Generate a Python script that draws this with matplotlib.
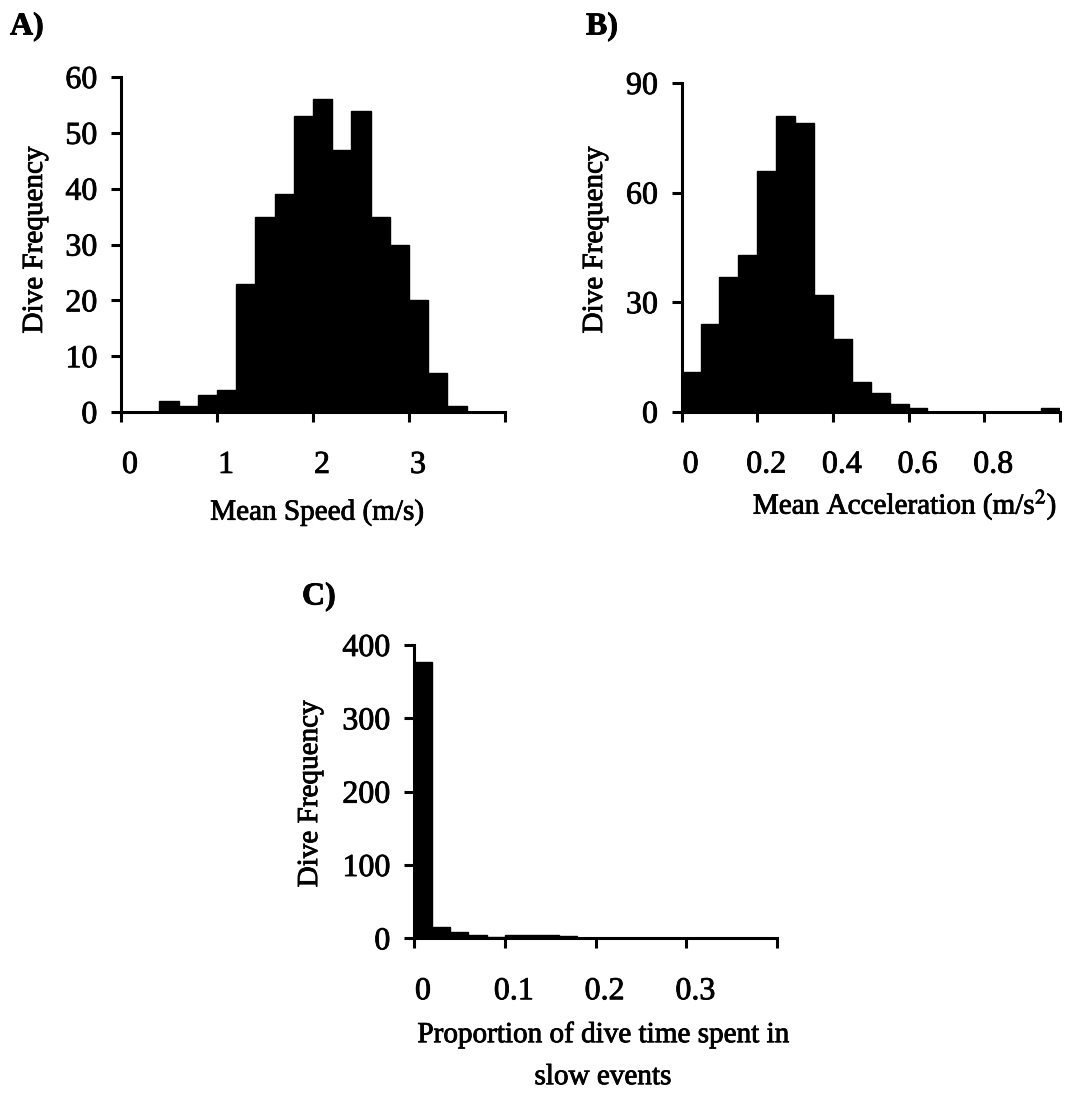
"""Dive histograms: mean speed, mean acceleration, slow-event proportion."""

import matplotlib
matplotlib.use("Agg")
import matplotlib.pyplot as plt
import matplotlib.patheffects as pe
import matplotlib.transforms as mtransforms
import numpy as np

plt.rcParams["font.family"] = ["Liberation Serif", "DejaVu Serif"]
plt.rcParams["mathtext.fontset"] = "stix"

# A) mean speed, 0.2 m/s bins
SPEED_EDGES = np.round(np.arange(0, 4.01, 0.2), 2)
SPEED_COUNTS = [0, 0, 2, 1, 3, 4, 23, 35, 39, 53, 56, 47, 54, 35, 30, 20, 7, 1, 0, 0]

# B) mean acceleration, 0.05 m/s^2 bins
ACCEL_EDGES = np.round(np.arange(0, 1.001, 0.05), 3)
ACCEL_COUNTS = [11, 24, 37, 43, 66, 81, 79, 32, 20, 8, 5, 2, 1, 0, 0, 0, 0, 0, 0, 1]

# C) proportion of dive time in slow events, 0.02 bins
SLOW_EDGES = np.round(np.arange(0, 0.401, 0.02), 3)
SLOW_COUNTS = [377, 16, 9, 5, 2, 4, 4, 4, 3, 1, 1, 1, 1, 0, 1, 1, 0, 1, 1, 1]

YLABEL = "Dive Frequency"
INK = "black"
TICK_FS = 23
LABEL_FS = 21
# scanned print looks heavy: thicken glyphs a touch
HEAVY = [pe.withStroke(linewidth=0.6, foreground=INK)]


def style_axis(ax, xticks, xticklabels, yticks):
    for side in ("top", "right"):
        ax.spines[side].set_visible(False)
    for side in ("left", "bottom"):
        ax.spines[side].set_linewidth(2.2)
    ax.set_xticks(xticks, labels=xticklabels)
    ax.set_yticks(yticks)
    ax.set_xlim(xticks[0], xticks[-1])
    ax.set_ylim(yticks[0], yticks[-1])
    ax.tick_params(axis="both", direction="out", length=7, width=2.2,
                   labelsize=TICK_FS, colors=INK)
    ax.tick_params(axis="x", pad=21)
    ax.tick_params(axis="y", pad=10)
    # labels sit a little right of their ticks in the original
    shift = mtransforms.ScaledTranslation(0.09, 0, ax.figure.dpi_scale_trans)
    for lab in ax.get_xticklabels():
        lab.set_transform(lab.get_transform() + shift)
    for lab in ax.get_xticklabels() + ax.get_yticklabels():
        lab.set_path_effects(HEAVY)


def hist(ax, edges, counts):
    ax.bar(edges[:-1], counts, width=np.diff(edges), align="edge",
           color=INK, edgecolor=INK, linewidth=1)


def labels(ax, xlabel, xpos, ypos):
    ax.set_xlabel(xlabel, fontsize=LABEL_FS, linespacing=1.8)
    ax.xaxis.set_label_coords(*xpos)
    ax.xaxis.label.set_va("center")
    ax.xaxis.label.set_path_effects(HEAVY)
    ax.set_ylabel(YLABEL, fontsize=LABEL_FS)
    ax.yaxis.set_label_coords(*ypos)
    ax.yaxis.label.set_va("center")
    ax.yaxis.label.set_path_effects(HEAVY)


fig = plt.figure(figsize=(10.65, 11.02), dpi=100)

axA = fig.add_axes([0.1136, 0.6261, 0.3606, 0.304])
hist(axA, SPEED_EDGES, SPEED_COUNTS)
style_axis(axA, [0, 1, 2, 3, 4], ["0", "1", "2", "3", ""], range(0, 61, 10))
labels(axA, "Mean Speed (m/s)", (0.51, -0.30), (-0.224, 0.513))

axB = fig.add_axes([0.640, 0.6264, 0.3552, 0.2983])
hist(axB, ACCEL_EDGES, ACCEL_COUNTS)
style_axis(axB, [0, 0.2, 0.4, 0.6, 0.8, 1.0],
           ["0", "0.2", "0.4", "0.6", "0.8", ""], [0, 30, 60, 90])
labels(axB, "Mean Acceleration (m/s$^2$)", (0.59, -0.285), (-0.229, 0.522))

axC = fig.add_axes([0.3887, 0.1485, 0.3411, 0.2662])
hist(axC, SLOW_EDGES, SLOW_COUNTS)
style_axis(axC, [0, 0.1, 0.2, 0.3, 0.4], ["0", "0.1", "0.2", "0.3", ""],
           range(0, 401, 100))
labels(axC, "Proportion of dive time spent in\nslow events",
       (0.52, -0.40), (-0.286, 0.492))

for tag, x, y in [("A)", 10, 27), ("B)", 586, 27), ("C)", 302, 597)]:
    fig.text(x / 1065, 1 - y / 1102, tag, fontsize=23, fontweight="bold",
             ha="left", va="center", path_effects=HEAVY)

fig.savefig("out.png", dpi=100)
